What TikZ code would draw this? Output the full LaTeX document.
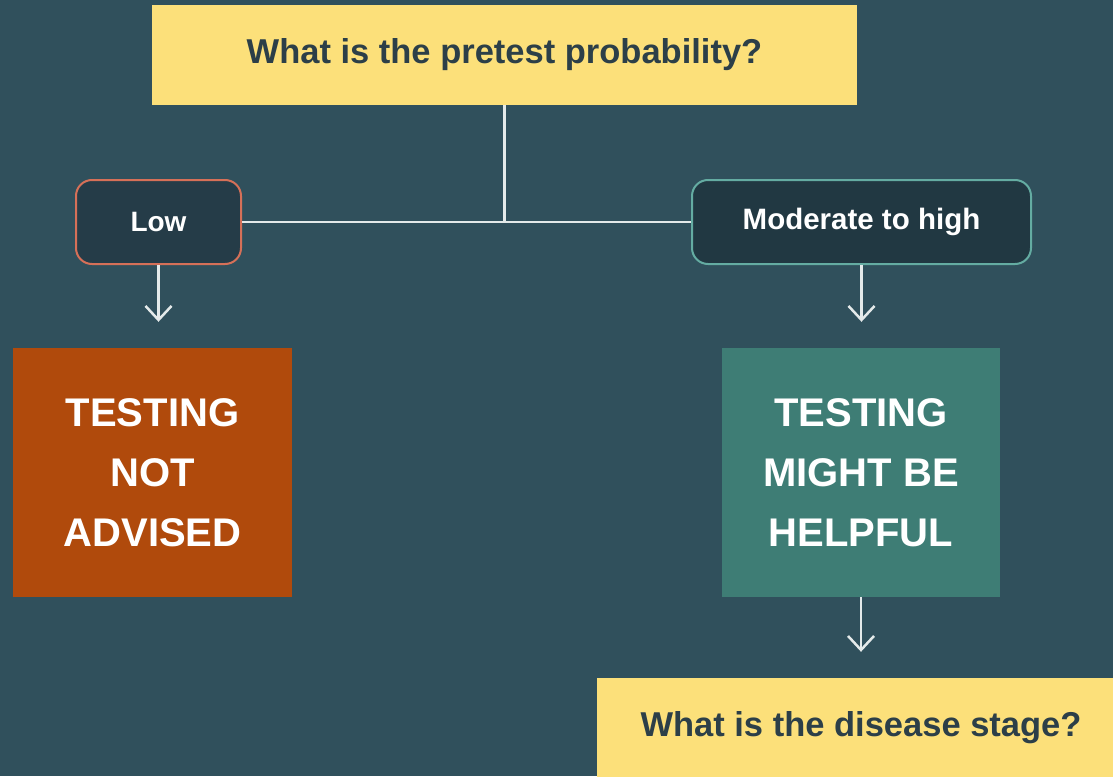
\documentclass[tikz,border=0pt]{standalone}
\usepackage{fontspec}
\setmainfont{Liberation Sans}
\usetikzlibrary{arrows.meta}

\definecolor{bgteal}{RGB}{48,80,92}
\definecolor{qyellow}{RGB}{252,224,122}
\definecolor{qtext}{RGB}{44,63,72}
\definecolor{rustbox}{RGB}{176,74,12}
\definecolor{tealbox}{RGB}{62,125,117}
\definecolor{lowfill}{RGB}{37,60,72}
\definecolor{lowedge}{RGB}{214,112,88}
\definecolor{modfill}{RGB}{33,56,66}
\definecolor{modedge}{RGB}{100,172,162}
\definecolor{wire}{RGB}{228,234,234}

\tikzset{
  question/.style={fill=qyellow, text=qtext, font=\fontsize{34.5}{40}\selectfont\bfseries,
    minimum height=100pt, inner sep=0pt, anchor=center},
  choice/.style={rounded corners=16pt, line width=2pt, text=white,
    font=\fontsize{28}{32}\selectfont\bfseries, minimum height=84pt, inner sep=0pt},
  verdict/.style={text=white, align=center, font=\fontsize{40}{60}\selectfont\bfseries,
    minimum width=279pt, minimum height=249pt, inner sep=0pt},
  wireline/.style={draw=wire, line width=2.5pt},
  downarrow/.style={wireline, -{Straight Barb[length=14pt,width=26pt,line width=2.5pt]},
    shorten >=26pt}
}

\begin{document}
\begin{tikzpicture}[x=1pt,y=-1pt]
  \useasboundingbox (0,0) rectangle (1113,776);
  \clip (0,0) rectangle (1113,776);
  \fill[bgteal] (0,0) rectangle (1113,776);

  % questions
  \node[question, minimum width=705pt] (top) at (504.5,55) {What is the pretest probability?};
  \node[question, minimum width=528pt] (stage) at (861,728) {What is the disease stage?};

  % answers
  \node[choice, fill=lowfill, draw=lowedge, minimum width=165pt] (low) at (158.5,222) {Low};
  \node[choice, fill=modfill, draw=modedge, minimum width=339pt,
        font=\fontsize{29.5}{32}\selectfont\bfseries] (mod) at (861.5,222) {Moderate to high};

  % outcomes
  \node[verdict, fill=rustbox] (notadv) at (152.5,472.5) {TESTING\\NOT\\ADVISED};
  \node[verdict, fill=tealbox, minimum width=278pt] (helpful) at (861,472.5) {TESTING\\MIGHT BE\\HELPFUL};

  % branching lines
  \coordinate (split) at (top.south |- low.east);
  \draw[wireline] (top.south) -- (split);
  \draw[wireline] (low.east) -- (mod.west);

  % arrows
  \draw[downarrow] (low.south) -- (low.south |- notadv.north);
  \draw[downarrow] (mod.south) -- (mod.south |- helpful.north);
  \draw[downarrow] (helpful.south) -- (helpful.south |- stage.north);
\end{tikzpicture}
\end{document}
